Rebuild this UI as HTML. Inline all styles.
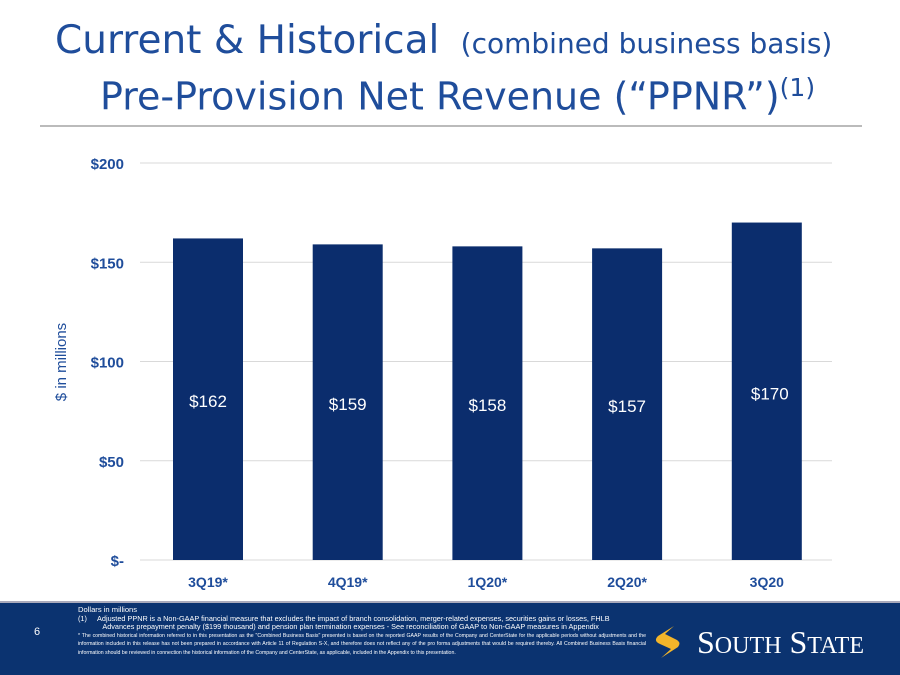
<!DOCTYPE html>
<html><head><meta charset="utf-8"><style>
body{margin:0;width:900px;height:675px;overflow:hidden;background:#fff;font-family:"Liberation Sans",sans-serif;position:relative}
.t{position:absolute;color:#1f4d9b;white-space:nowrap;font-family:"DejaVu Sans",sans-serif}
</style></head><body>
<div class="t" style="left:55px;top:18px;font-size:39px">Current &amp; Historical <span style="font-size:28px">&nbsp;(combined business basis)</span></div>
<div class="t" style="left:100px;top:73px;font-size:38px">Pre-Provision Net Revenue (“PPNR”)<sup style="font-size:25px">(1)</sup></div>
<div style="position:absolute;left:40px;top:125px;width:822px;height:2px;background:#bbb"></div>
<svg id="chart" width="900" height="600" style="position:absolute;left:0;top:0"></svg>
<div style="position:absolute;left:0;top:603px;width:900px;height:72px;background:#0b3370"></div>
<div style="position:absolute;left:0;top:601px;width:900px;height:2px;background:#aab"></div>
<div style="position:absolute;left:34px;top:626px;color:#fff;font-size:11px">6</div>
<div style="position:absolute;left:78px;top:606px;width:568px;color:#fff;font-size:6.2px;line-height:8.5px">
<div style="font-size:7.6px">Dollars in millions</div>
<div style="font-size:7.3px;white-space:nowrap">(1)&nbsp;&nbsp;&nbsp;&nbsp;&nbsp;Adjusted PPNR is a Non-GAAP financial measure that excludes the impact of branch consolidation, merger-related expenses, securities gains or losses, FHLB<br>&nbsp;&nbsp;&nbsp;&nbsp;&nbsp;&nbsp;&nbsp;&nbsp;&nbsp;&nbsp;&nbsp;&nbsp;Advances prepayment penalty ($199 thousand) and pension plan termination expenses - See reconciliation of GAAP to Non-GAAP measures in Appendix</div>
<div style="font-size:5.2px;line-height:8.5px;text-align:justify">* The combined historical information referred to in this presentation as the "Combined Business Basis" presented is based on the reported GAAP results of the Company and CenterState for the applicable periods without adjustments and the information included in this release has not been prepared in accordance with Article 11 of Regulation S-X, and therefore does not reflect any of the pro forma adjustments that would be required thereby. All Combined Business Basis financial information should be reviewed in connection the historical information of the Company and CenterState, as applicable, included in the Appendix to this presentation.</div>
</div>
<svg width="32" height="36" style="position:absolute;left:652px;top:624px"><path d="M22 2 L6 12 Q1 17 8 20 L19 25 L9 34 L26 23 Q30 18 23 15 L13 10 Z" fill="#f3b52a"/></svg>
<div style="position:absolute;left:697px;top:624px;color:#fff;font-family:'Liberation Serif',serif;font-size:32px;white-space:nowrap">S<span style="font-size:24px">OUTH</span> S<span style="font-size:24px">TATE</span></div>
<script>
const categories=["3Q19*","4Q19*","1Q20*","2Q20*","3Q20"];
const values=[162,159,158,157,170];
const valueLabels=["$162","$159","$158","$157","$170"];
const ticks=[0,50,100,150,200];
const tickLabels=["$-","$50","$100","$150","$200"];
const svg=document.getElementById('chart');const NS='http://www.w3.org/2000/svg';
const y=v=>560-v*1.985;const x=i=>208+i*139.7;
function mk(t,a,txt){const e=document.createElementNS(NS,t);for(const k in a)e.setAttribute(k,a[k]);if(txt!=null)e.textContent=txt;svg.appendChild(e);return e;}
ticks.forEach((t,i)=>{
const g=mk('line',{x1:140,x2:832,y1:y(t),y2:y(t),stroke:'#d9d9d9','stroke-width':1});


const l=mk('text',{x:124,y:y(t)+6,'text-anchor':'end','font-size':15,'font-weight':'bold',fill:'#1f4d9b'},tickLabels[i]);


});
categories.forEach((c,i)=>{
const b=mk('rect',{x:x(i)-35,y:y(values[i]),width:70,height:560-y(values[i]),fill:'#0b2d6d'});


const v=mk('text',{x:x(i)+(i==4?3:0),y:(y(values[i])+560)/2+8,'text-anchor':'middle','font-size':17,fill:'#fff'},valueLabels[i]);


const l=mk('text',{x:x(i),y:587,'text-anchor':'middle','font-size':14,'font-weight':'bold',fill:'#1f4d9b'},c);


});
const at=mk('text',{x:0,y:0,transform:'translate(66,362) rotate(-90)','text-anchor':'middle','font-size':15,fill:'#1f4d9b'},'$ in millions');


</script>
</body></html>
